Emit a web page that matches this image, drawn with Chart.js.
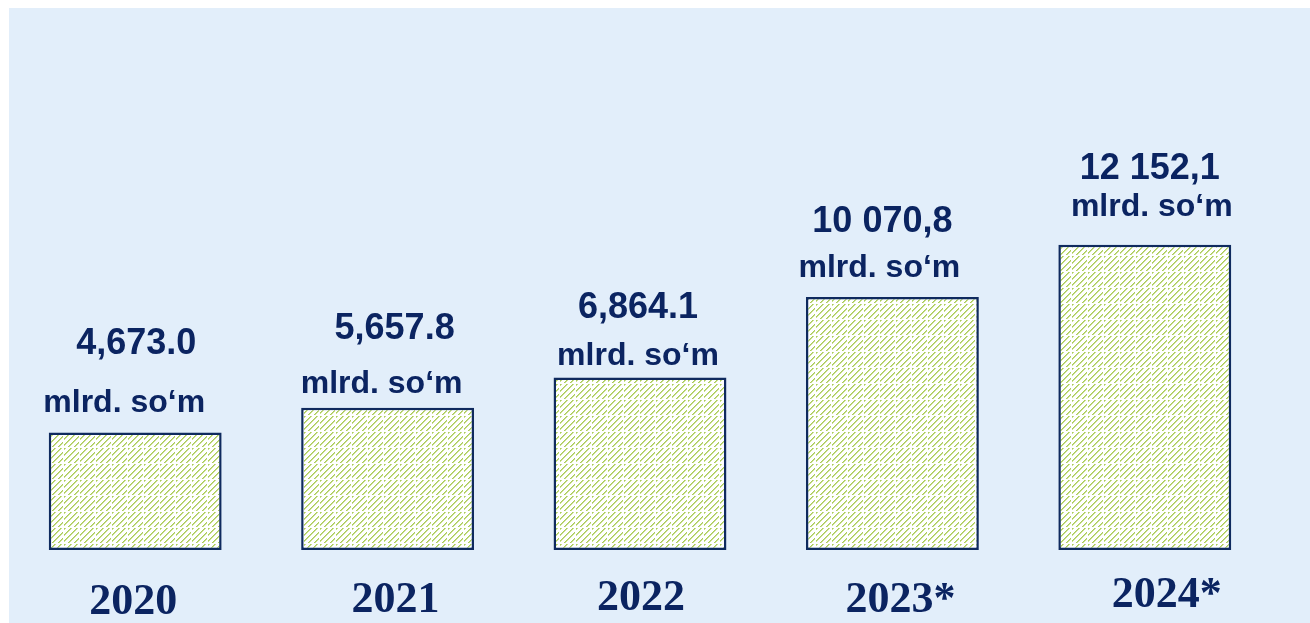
<!DOCTYPE html>
<html>
<head>
<meta charset="utf-8">
<script src="https://cdn.jsdelivr.net/npm/chart.js@4.4.1/dist/chart.umd.min.js"></script>
<style>
  html, body { margin: 0; padding: 0; background: #ffffff; }
  #wrap { width: 1310px; height: 623px; position: relative; }
</style>
</head>
<body>
<div id="wrap"><canvas id="c" width="1310" height="623"></canvas></div>
<script>
// ---- data ----
const categories = ['2020', '2021', '2022', '2023*', '2024*'];
const values = [4673.0, 5657.8, 6864.1, 10070.8, 12152.1];
const valueLabels = ['4,673.0', '5,657.8', '6,864.1', '10 070,8', '12 152,1'];
const unitLabel = 'mlrd. so\u2018m';

// ---- styling / placement (not data) ----
const NAVY = '#0B2461';
const valueOffsets = [[1, -79], [7, -69], [-2, -60], [-10, -65], [5, -66]];
const unitOffsets = [[-11, -21], [-6, -15], [-2, -13], [-13, -20], [7, -29]];
const yearOffsets = [[-2, 64], [8, 62], [1, 60], [8, 62], [22, 57]];

function makePattern() {
  const t = document.createElement('canvas');
  t.width = 16; t.height = 16;
  const g = t.getContext('2d');
  g.fillStyle = '#ffffff';
  g.fillRect(0, 0, 16, 16);
  for (let x = 0; x < 16; x++) {
    for (let y = 0; y < 16; y++) {
      if (x === 15 || y === 15) continue;
      const k = (x + y) % 6;
      if (k === 0) { g.fillStyle = '#abcb5a'; g.fillRect(x, y, 1, 1); }
      else if (k === 1) { g.fillStyle = '#c9df8c'; g.fillRect(x, y, 1, 1); }
    }
  }
  return g.createPattern(t, 'repeat');
}

const bgPlugin = {
  id: 'bg',
  beforeDraw(chart) {
    const ctx = chart.ctx;
    ctx.save();
    ctx.fillStyle = '#ffffff';
    ctx.fillRect(0, 0, chart.width, chart.height);
    ctx.fillStyle = '#e2eefa';
    ctx.fillRect(9, 8, chart.width - 9, chart.height - 8);
    ctx.restore();
  }
};

const labelPlugin = {
  id: 'labels',
  afterDatasetsDraw(chart) {
    const ctx = chart.ctx;
    const meta = chart.getDatasetMeta(0);
    const bottom = chart.scales.y.getPixelForValue(0);
    ctx.save();
    ctx.fillStyle = NAVY;
    ctx.textAlign = 'center';
    ctx.textBaseline = 'alphabetic';
    meta.data.forEach((bar, i) => {
      ctx.font = 'bold 36px "Liberation Sans", Arial, sans-serif';
      ctx.fillText(valueLabels[i], bar.x + valueOffsets[i][0], bar.y + valueOffsets[i][1]);
      ctx.font = 'bold 32px "Liberation Sans", Arial, sans-serif';
      ctx.fillText(unitLabel, bar.x + unitOffsets[i][0], bar.y + unitOffsets[i][1]);
      ctx.font = 'bold 44px "Liberation Serif", "Times New Roman", serif';
      ctx.fillText(categories[i], bar.x + yearOffsets[i][0], bottom + yearOffsets[i][1]);
    });
    ctx.restore();
  }
};

new Chart(document.getElementById('c'), {
  type: 'bar',
  data: {
    labels: categories,
    datasets: [{
      data: values,
      backgroundColor: makePattern(),
      borderColor: '#0f2a5e',
      borderWidth: 2.5,
      borderSkipped: false,
      categoryPercentage: 1.0,
      barPercentage: 0.685
    }]
  },
  options: {
    responsive: false,
    animation: false,
    devicePixelRatio: 1,
    layout: { padding: { left: 9, right: 39, top: 50, bottom: 73 } },
    plugins: { legend: { display: false }, tooltip: { enabled: false } },
    scales: {
      x: { display: false },
      y: { display: false, min: 0, max: 19900 }
    }
  },
  plugins: [bgPlugin, labelPlugin]
});
</script>
</body>
</html>
